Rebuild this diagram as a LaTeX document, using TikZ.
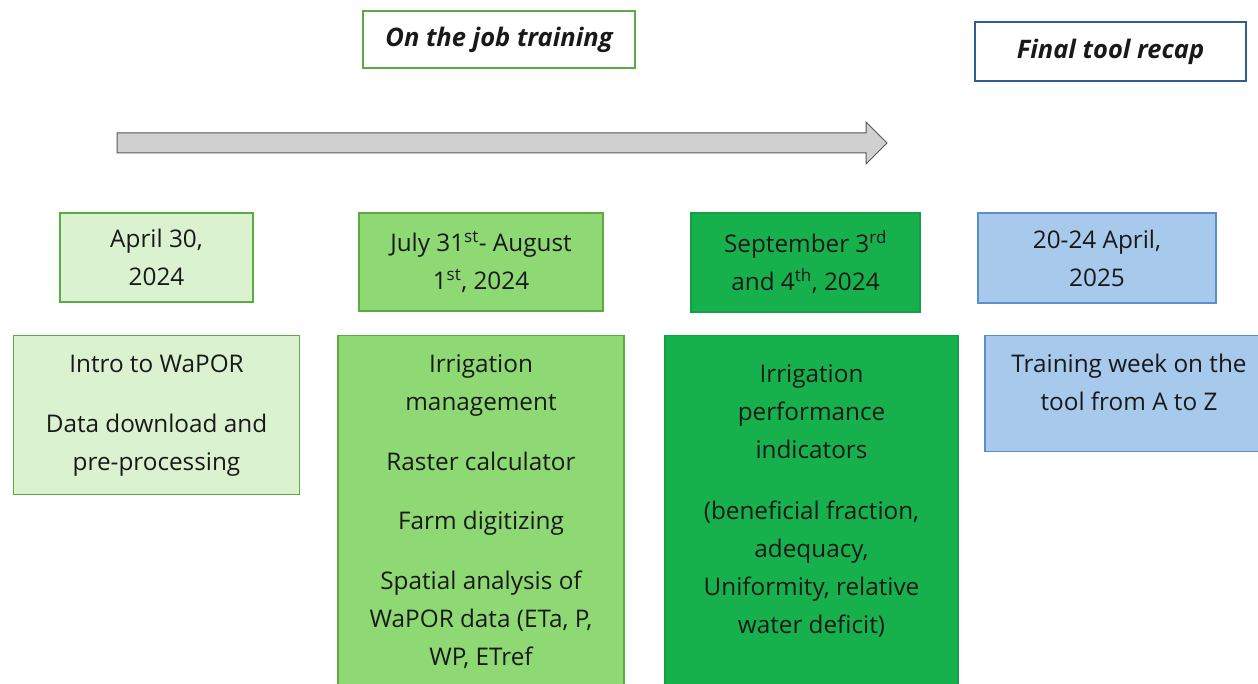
\documentclass[tikz,border=0pt]{standalone}
\usepackage{fontspec}
\setmainfont{Open Sans}
\usetikzlibrary{positioning}

\definecolor{palegreen}{HTML}{DAF2D0}
\definecolor{midgreen}{HTML}{8ED973}
\definecolor{deepgreen}{HTML}{16B14C}
\definecolor{paleblue}{HTML}{A6C9EC}
\definecolor{greenline}{HTML}{5DAA42}
\definecolor{blueline}{HTML}{5B8FC8}
\definecolor{navyline}{HTML}{2F5F8F}
\definecolor{arrowgray}{HTML}{D0D0D0}

% text block that starts at the top of a box: width, height, first baseline, lines
\newcommand{\cellbody}[4]{\parbox[t][#2][t]{#1}{\centering\rule{0pt}{#3}#4}}

\tikzstyle{titlebox} = [rectangle, draw, line width=1.5pt, fill=white, %
   text centered, font=\fontsize{25.5}{30}\selectfont\bfseries\itshape]
\tikzstyle{datebox} = [rectangle, draw, line width=1.5pt, %
   align=center, inner sep=0pt, font=\fontsize{24.3}{38}\selectfont]
\tikzstyle{topicbox} = [rectangle, draw, line width=1.5pt, %
   inner sep=0pt, font=\fontsize{24.3}{38}\selectfont]

\begin{document}
\begin{tikzpicture}[x=1pt, y=-1pt, text=black!90]
   \clip (0,0) rectangle (1258,684);
   \fill[white] (0,0) rectangle (1258,684);

   % Headers
   \node[titlebox, draw=greenline, minimum width=272pt, minimum height=57pt]
      (jobtraining) at (499,39.5) {On the job training};
   \node[titlebox, draw=navyline, minimum width=271pt, minimum height=59pt]
      (recap) at (1110.5,51.5) {Final tool recap};

   % Time line
   \draw[line width=1pt, draw=black!65, fill=arrowgray]
      (117,133) -- (866,133) -- (866,122) -- (887,143)
      -- (866,164) -- (866,153) -- (117,153) -- cycle;

   % Dates %%%%%%%%%%%%%%%%%%%%%%%%%%%%%%%%%%%%%%%%%%%%%%%%%%%%%%%%%%%%
   \node[datebox, fill=palegreen, draw=greenline, minimum width=193pt,
      minimum height=89pt](apr) at (156.5,257.5) {April 30,\\2024};
   \node[datebox, fill=midgreen, draw=greenline, minimum width=244pt,
      minimum height=98pt](jul) at (481,262)
      {July 31\textsuperscript{st}- August\\1\textsuperscript{st}, 2024};
   \node[datebox, fill=deepgreen, draw=deepgreen!90!black, minimum width=229pt,
      minimum height=99pt](sep) at (805.5,262.5)
      {September 3\textsuperscript{rd}\\and 4\textsuperscript{th}, 2024};
   \node[datebox, fill=paleblue, draw=blueline, minimum width=238pt,
      minimum height=90pt](aprnext) at (1097,258) {20-24 April,\\2025};

   % Topics below each date
   \node[topicbox, fill=palegreen, draw=greenline, below=32pt of apr](intro){%
      \cellbody{286pt}{159pt}{37pt}{Intro to WaPOR\\[22pt]
      Data download and\\pre-processing}};

   \node[topicbox, fill=midgreen, draw=greenline, below=23pt of jul](mgmt){%
      \cellbody{286pt}{370pt}{37.5pt}{Irrigation\\management\\[22pt]
      Raster calculator\\[21pt]
      Farm digitizing\\[22pt]
      Spatial analysis of\\WaPOR data (ETa, P,\\WP, ETref}};

   \node[topicbox, fill=deepgreen, draw=deepgreen!90!black, below=22pt of sep,
      xshift=6pt](perf){%
      \cellbody{293pt}{370pt}{47.5pt}{Irrigation\\performance\\indicators\\[23pt]
      (beneficial fraction,\\adequacy,\\Uniformity, relative\\water deficit)}};

   \node[topicbox, fill=paleblue, draw=blueline, below=31pt of aprnext,
      xshift=32pt](week){%
      \cellbody{288pt}{116pt}{37pt}{Training week on the\\tool from A to Z}};
\end{tikzpicture}
\end{document}
